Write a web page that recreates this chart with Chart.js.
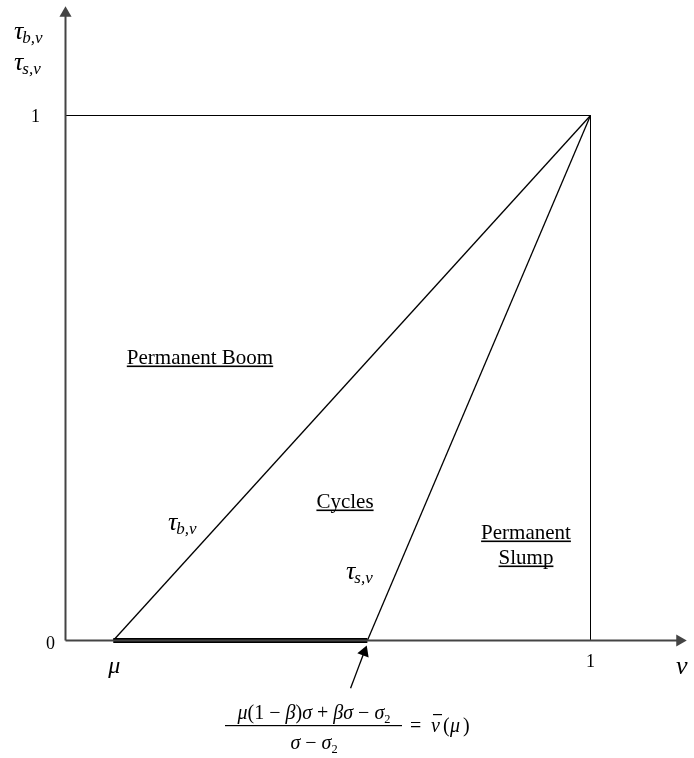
<!DOCTYPE html>
<html>
<head>
<meta charset="utf-8">
<script src="https://cdn.jsdelivr.net/npm/chart.js@4"></script>
<style>
  html, body { margin: 0; padding: 0; background: #fff; }
  canvas { display: block; }
</style>
</head>
<body>
<canvas id="chart" width="694" height="758"></canvas>
<script>
// values (v on x, tau on y, both 0..1)
const mu = 0.091;
const vBar = 0.575;
const yTicks = [0, 1];
const xTicks = [1];
const yAxisLine = [[0, 0], [0, 1.195]];
const xAxisLine = [[0, 0], [1.17, 0]];
const topEdge = [[0, 1], [1, 1]];
const rightEdge = [[1, 1], [1, 0]];
const tauB = [[mu, 0], [1, 1]];
const tauS = [[vBar, 0], [1, 1]];
const cycleRange = [[mu, 0], [vBar, 0]];
const pointer = [[0.543, -0.091], [0.569, -0.022]];

const SERIF = '"Liberation Serif", "DejaVu Serif", serif';

function toPts(arr) {
  return arr.map(p => ({x: p[0], y: p[1]}));
}

function line(label, arr, color, width, arrowRot) {
  return {
    label: label,
    data: toPts(arr),
    showLine: true,
    borderColor: color,
    backgroundColor: color,
    borderWidth: width,
    pointRadius: arrowRot === undefined ? 0 : [0, 7],
    pointStyle: 'triangle',
    pointRotation: arrowRot || 0,
    pointBorderWidth: 0
  };
}

// text drawing helpers
function seg(ctx, x, y, parts, size) {
  // parts: [text, italic, sub]
  let cx = x;
  parts.forEach(p => {
    const s = p[2] ? size * 0.62 : size;
    ctx.font = (p[1] ? 'italic ' : '') + s + 'px ' + SERIF;
    ctx.fillText(p[0], cx, y + (p[2] ? size * 0.22 : 0));
    cx += ctx.measureText(p[0]).width;
  });
  return cx - x;
}
function segWidth(ctx, parts, size) {
  let w = 0;
  parts.forEach(p => {
    const s = p[2] ? size * 0.62 : size;
    ctx.font = (p[1] ? 'italic ' : '') + s + 'px ' + SERIF;
    w += ctx.measureText(p[0]).width;
  });
  return w;
}
function underlined(ctx, text, cx, y, size) {
  ctx.font = size + 'px ' + SERIF;
  const w = ctx.measureText(text).width;
  ctx.textAlign = 'left';
  ctx.fillText(text, cx - w / 2, y);
  ctx.fillRect(cx - w / 2, y + 1.5, w, 1.6);
}
function tau(ctx, x, y, sub) {
  ctx.textAlign = 'left';
  ctx.font = 'italic 26px ' + SERIF;
  ctx.fillText('\u03C4', x, y);
  const w = ctx.measureText('\u03C4').width;
  ctx.font = 'italic 17px ' + SERIF;
  ctx.fillText(sub, x + w - 1, y + 4);
}

const labelPlugin = {
  id: 'labels',
  afterDraw(chart) {
    const ctx = chart.ctx;
    const X = v => chart.scales.x.getPixelForValue(v);
    const Y = v => chart.scales.y.getPixelForValue(v);
    ctx.save();
    ctx.fillStyle = '#000';
    ctx.textBaseline = 'alphabetic';

    // tick labels
    ctx.font = '18px ' + SERIF;
    ctx.textAlign = 'center';
    ctx.fillText(String(yTicks[1]), X(0) - 30, Y(yTicks[1]) + 6);
    ctx.fillText(String(yTicks[0]), X(0) - 15, Y(yTicks[0]) + 8);
    ctx.fillText(String(xTicks[0]), X(xTicks[0]), Y(0) + 26);
    ctx.font = 'italic 24px ' + SERIF;
    ctx.fillText('\u03BC', X(mu) + 1, Y(0) + 32);
    ctx.font = 'italic 26px ' + SERIF;
    ctx.fillText('v', X(1.17) + 2, Y(0) + 33);

    // axis title
    tau(ctx, 14, 39, 'b,v');
    tau(ctx, 14, 70, 's,v');

    // line labels
    tau(ctx, 168, 530, 'b,v');
    tau(ctx, 346, 579, 's,v');

    // regions
    underlined(ctx, 'Permanent Boom', 200, 364, 21);
    underlined(ctx, 'Cycles', 345, 508, 21);
    underlined(ctx, 'Permanent', 526, 539, 21);
    underlined(ctx, 'Slump', 526, 564, 21);

    // formula for vBar
    const size = 20;
    const num = [['\u03BC', true], ['(1 \u2212 ', false], ['\u03B2', true], [')', false],
                 ['\u03C3', true], [' + ', false], ['\u03B2\u03C3', true], [' \u2212 ', false],
                 ['\u03C3', true], ['2', false, true]];
    const den = [['\u03C3', true], [' \u2212 ', false], ['\u03C3', true], ['2', false, true]];
    ctx.textAlign = 'left';
    const fx = 314;
    const nw = segWidth(ctx, num, size);
    seg(ctx, fx - nw / 2, 719, num, size);
    const dw = segWidth(ctx, den, size);
    seg(ctx, fx - dw / 2, 749, den, size);
    ctx.fillRect(225, 725, 177, 1.2);
    ctx.font = size + 'px ' + SERIF;
    ctx.fillText('=', 410, 732);
    ctx.font = 'italic ' + size + 'px ' + SERIF;
    ctx.fillText('v', 431, 732);
    ctx.fillRect(433, 714, 9, 1.2);
    ctx.font = size + 'px ' + SERIF;
    ctx.fillText('(', 443, 732);
    ctx.font = 'italic ' + size + 'px ' + SERIF;
    ctx.fillText('\u03BC', 450, 732);
    ctx.font = size + 'px ' + SERIF;
    ctx.fillText(')', 463, 732);
    ctx.restore();
  }
};

// half-pixel offset keeps the 1px box edges crisp
const X0 = 65.5, Y0 = 640.5, UNIT = 525;

new Chart(document.getElementById('chart'), {
  type: 'scatter',
  data: {
    datasets: [
      line('yaxis', yAxisLine, '#444', 2, 0),
      line('xaxis', xAxisLine, '#444', 2, 90),
      line('top', topEdge, '#000', 1),
      line('right', rightEdge, '#000', 1),
      line('tauB', tauB, '#000', 1.3),
      line('tauS', tauS, '#000', 1.3),
      line('cycles', cycleRange, '#000', 5),
      line('pointer', pointer, '#000', 1.3, 21)
    ]
  },
  options: {
    responsive: false,
    animation: false,
    layout: {padding: 0, autoPadding: false},
    plugins: {
      legend: {display: false},
      tooltip: {enabled: false}
    },
    scales: {
      x: {type: 'linear', display: false, min: -X0 / UNIT, max: (694 - X0) / UNIT},
      y: {type: 'linear', display: false, min: -(758 - Y0) / UNIT, max: Y0 / UNIT}
    }
  },
  plugins: [labelPlugin]
});
</script>
</body>
</html>
